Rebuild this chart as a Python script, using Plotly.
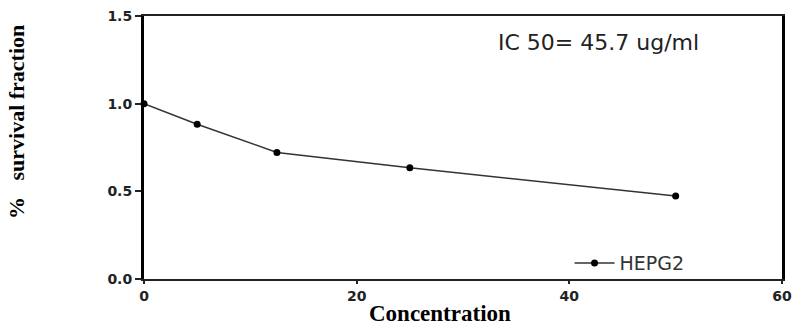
import plotly.graph_objects as go

concentration = [0, 5, 12.5, 25, 50]
survival = [1.0, 0.883, 0.722, 0.634, 0.473]
series_name = "HEPG2"
x_ticks = [0, 20, 40, 60]
y_ticks = [0.0, 0.5, 1.0, 1.5]

fig = go.Figure()
fig.add_trace(go.Scatter(
    x=concentration, y=survival, mode="lines+markers", name=series_name,
    line=dict(color="#333333", width=1.5),
    marker=dict(symbol="circle", size=7, color="black"),
    cliponaxis=False,
))

tick_font = dict(family="DejaVu Sans", size=14, color="#222222", weight="bold")

fig.update_layout(
    width=792, height=325,
    margin=dict(l=144, r=10, t=16, b=46),
    paper_bgcolor="white", plot_bgcolor="white",
    showlegend=True,
    legend=dict(x=0.667, y=0.06, xanchor="left", yanchor="middle",
                bgcolor="rgba(0,0,0,0)", itemwidth=40,
                font=dict(family="DejaVu Sans", size=19, color="#333333")),
    xaxis=dict(range=[0, 60], tickvals=x_ticks, showgrid=False, zeroline=False,
               showline=True, linecolor="#222222", linewidth=2, mirror=True,
               ticks="outside", ticklen=3, tickwidth=2, tickcolor="#222222",
               tickfont=tick_font, automargin=False),
    yaxis=dict(range=[0, 1.5], tickvals=y_ticks, tickformat=".1f", showgrid=False,
               zeroline=False, showline=True, linecolor="black", linewidth=3,
               mirror=True, ticks="outside", ticklen=6, tickwidth=2,
               tickcolor="#222222", tickfont=tick_font, automargin=False),
    annotations=[
        dict(text="IC 50= 45.7 ug/ml", x=0.713, y=0.9, xref="paper", yref="paper",
             xanchor="center", yanchor="middle", showarrow=False,
             font=dict(family="DejaVu Sans", size=22, color="#222222")),
        dict(text="Concentration", x=0.464, y=0, xref="paper", yref="paper",
             xanchor="center", yanchor="middle", yshift=-34, showarrow=False,
             font=dict(family="Liberation Serif", size=23, color="black", weight="bold")),
        dict(text="%\u00a0\u00a0 survival fraction", x=-0.199, y=0.597, xref="paper",
             yref="paper", xanchor="center", yanchor="middle", textangle=-90,
             showarrow=False,
             font=dict(family="Liberation Serif", size=22, color="black", weight="bold")),
    ],
)

fig.write_html("out.html")
